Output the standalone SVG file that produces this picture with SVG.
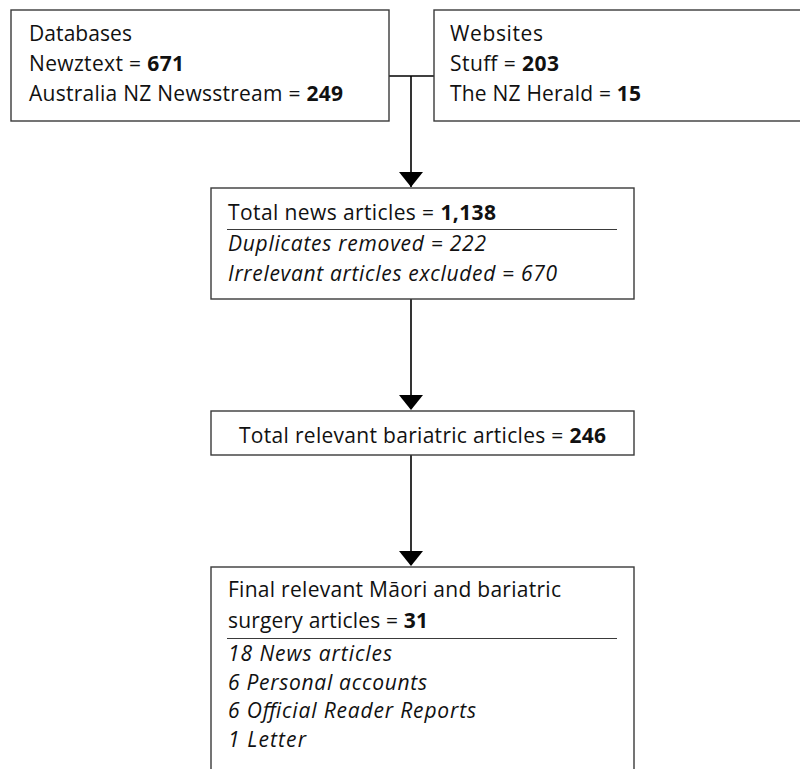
<svg xmlns="http://www.w3.org/2000/svg" width="800" height="769" viewBox="0 0 800 769">
<style>
.box{fill:#fff;stroke:#3a3a3a;stroke-width:1.4}
.sep{stroke:#3a3a3a;stroke-width:1.2}
.conn{stroke:#000;stroke-width:1.6;fill:none}
text{font-family:"Open Sans","Liberation Sans",sans-serif;font-size:21px;fill:#111}
.b{font-weight:bold}
.i{font-style:italic}
</style>
<rect width="800" height="769" fill="#fff"/>
<g id="connectors">
<path class="conn" d="M389,76 H434"/>
<path class="conn" d="M411,76 V187"/>
<path d="M399,172 L423,172 L411,187 Z" fill="#000"/>
<path class="conn" d="M411,299 V396"/>
<path d="M399,395 L423,395 L411,410 Z" fill="#000"/>
<path class="conn" d="M411,455 V552"/>
<path d="M399,551 L423,551 L411,566 Z" fill="#000"/>
</g>
<g id="databases">
<rect class="box" x="11" y="10" width="378" height="111"/>
<text x="29" y="41" textLength="103">Databases</text>
<text x="29" y="71" textLength="155">Newztext = <tspan class="b">671</tspan></text>
<text x="29" y="101" textLength="314">Australia NZ Newsstream = <tspan class="b">249</tspan></text>
</g>
<g id="websites">
<rect class="box" x="434" y="10" width="380" height="111"/>
<text x="450" y="41" textLength="93">Websites</text>
<text x="450" y="71" textLength="109">Stuff = <tspan class="b">203</tspan></text>
<text x="450" y="101" textLength="191">The NZ Herald = <tspan class="b">15</tspan></text>
</g>
<g id="total-news">
<rect class="box" x="211" y="188" width="423" height="111"/>
<text x="228" y="220" textLength="268">Total news articles = <tspan class="b">1,138</tspan></text>
<line class="sep" x1="227" y1="229.5" x2="617" y2="229.5"/>
<text class="i" x="228" y="251" textLength="258">Duplicates removed = 222</text>
<text class="i" x="228" y="281" textLength="329">Irrelevant articles excluded = 670</text>
</g>
<g id="total-relevant">
<rect class="box" x="211" y="411" width="423" height="44"/>
<text x="422.5" y="443" text-anchor="middle" textLength="367">Total relevant bariatric articles = <tspan class="b">246</tspan></text>
</g>
<g id="final">
<rect class="box" x="211" y="567" width="423" height="220"/>
<text x="228" y="597" textLength="333">Final relevant Māori and bariatric</text>
<text x="228" y="628" textLength="200">surgery articles = <tspan class="b">31</tspan></text>
<line class="sep" x1="227" y1="638.5" x2="617" y2="638.5"/>
<text class="i" x="228" y="661" textLength="164">18 News articles</text>
<text class="i" x="228" y="690" textLength="199">6 Personal accounts</text>
<text class="i" x="228" y="718" textLength="248">6 Official Reader Reports</text>
<text class="i" x="228" y="747" textLength="78">1 Letter</text>
</g>
</svg>
